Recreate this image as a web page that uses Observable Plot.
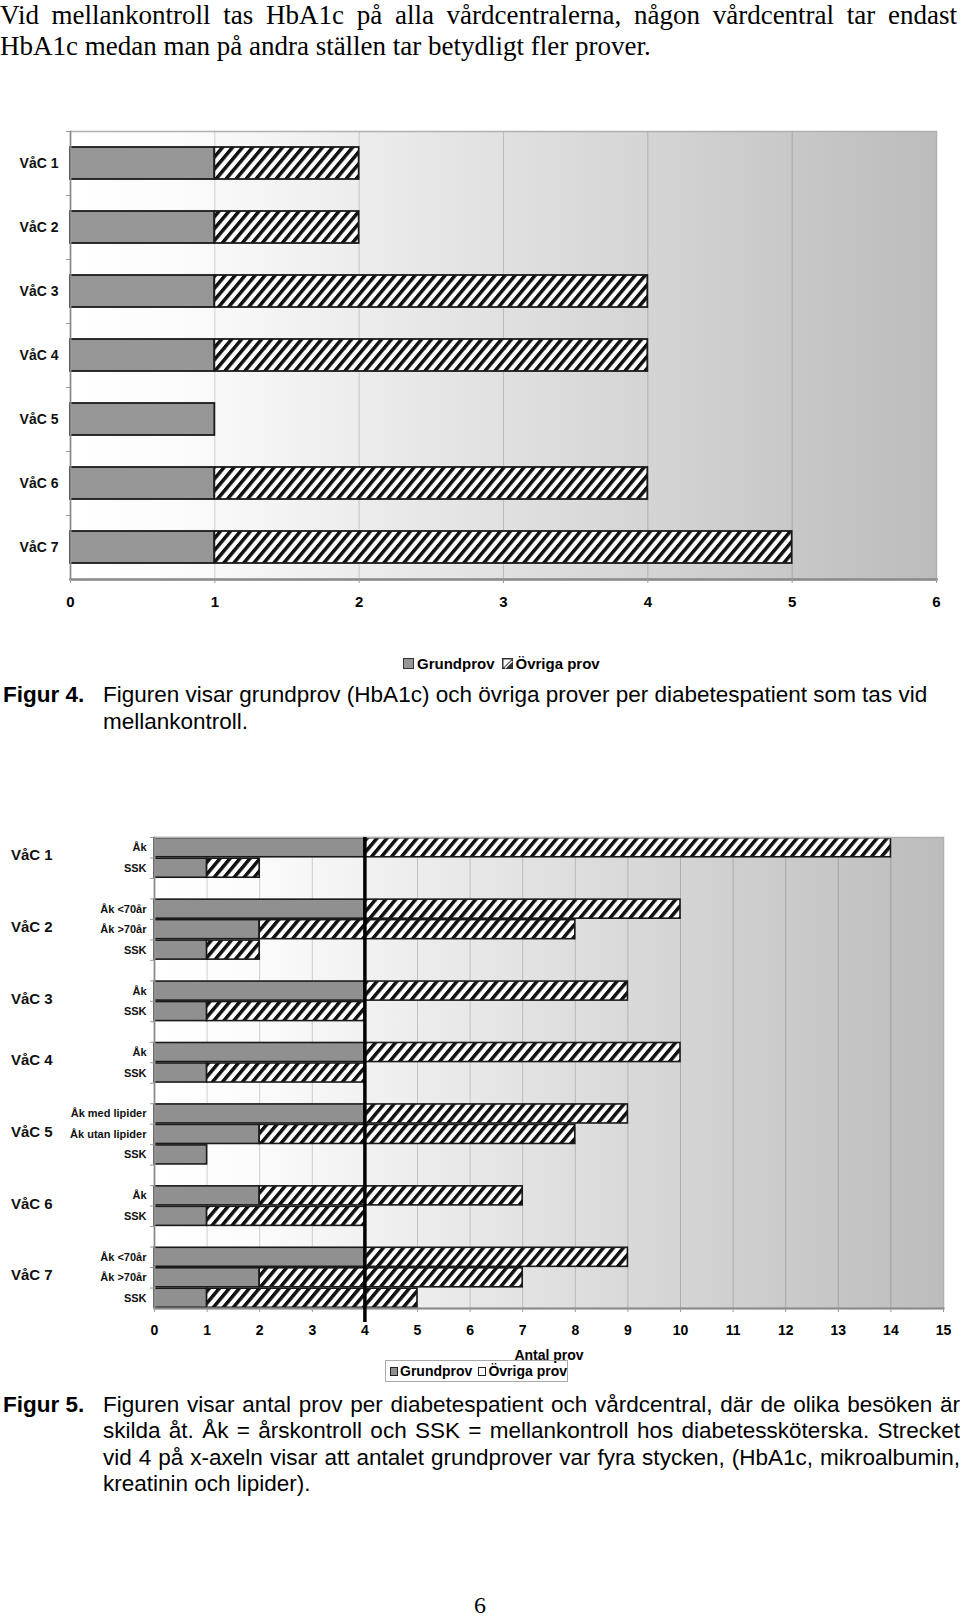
<!DOCTYPE html>
<html><head><meta charset="utf-8">
<script src="https://cdn.jsdelivr.net/npm/d3@7"></script>
<script src="https://cdn.jsdelivr.net/npm/@observablehq/plot@0.6"></script>
<style>
body{margin:0;background:#fff;}
#page{position:relative;width:960px;height:1617px;overflow:hidden;font-family:"Liberation Sans",Arial,sans-serif;color:#000;background:#fff;}
.abs{position:absolute;}
.serif{font-family:"Liberation Serif","Times New Roman",serif;}
.ln{position:absolute;white-space:nowrap;}
.just{position:absolute;white-space:normal;text-align:justify;text-align-last:justify;}
.cap{font-size:22.5px;line-height:26.4px;}
.leg{display:flex;align-items:center;font-weight:bold;white-space:nowrap;}
.sw{display:inline-block;box-sizing:border-box;}
</style></head>
<body><div id="page"></div>
<script>
// ---------- data: Figur 4 ----------
const centres = ["VåC 1","VåC 2","VåC 3","VåC 4","VåC 5","VåC 6","VåC 7"];
const grundprov1 = [1,1,1,1,1,1,1];
const ovriga1 = [1,1,3,3,0,3,4];
const seriesNames = ["Grundprov","Övriga prov"];
const ticks1 = [0,1,2,3,4,5,6];

// ---------- data: Figur 5 ----------
const barGroup = ["VåC 1","VåC 1","VåC 2","VåC 2","VåC 2","VåC 3","VåC 3","VåC 4","VåC 4","VåC 5","VåC 5","VåC 5","VåC 6","VåC 6","VåC 7","VåC 7","VåC 7"];
const barVisit = ["Åk","SSK","Åk <70år","Åk >70år","SSK","Åk","SSK","Åk","SSK","Åk med lipider","Åk utan lipider","SSK","Åk","SSK","Åk <70år","Åk >70år","SSK"];
const grundprov2 = [4,1,4,2,1,4,1,4,1,4,2,1,2,1,4,2,1];
const ovriga2 = [10,1,6,6,1,5,3,6,3,5,6,0,5,3,5,5,4];
const ticks2 = [0,1,2,3,4,5,6,7,8,9,10,11,12,13,14,15];
const antalGrundprover = 4;

// ---------- texts ----------
const introLines = ["Vid mellankontroll tas HbA1c på alla vårdcentralerna, någon vårdcentral tar endast",
  "HbA1c medan man på andra ställen tar betydligt fler prover."];
const fig4Label = "Figur 4.";
const fig4Lines = ["Figuren visar grundprov (HbA1c) och övriga prover per diabetespatient som tas vid", "mellankontroll."];
const fig5Label = "Figur 5.";
const fig5Lines = ["Figuren visar antal prov per diabetespatient och vårdcentral, där de olika besöken är",
  "skilda åt. Åk = årskontroll och SSK = mellankontroll hos diabetessköterska. Strecket",
  "vid 4 på x-axeln visar att antalet grundprover var fyra stycken, (HbA1c, mikroalbumin,",
  "kreatinin och lipider)."];
const xLabel2 = "Antal prov";
const pageNumber = "6";

const page = document.getElementById("page");
function el(tag, cls, css, text){ const e=document.createElement(tag); if(cls) e.className=cls; if(css) e.style.cssText=css; if(text!=null) e.textContent=text; page.appendChild(e); return e; }
// a justified single line: shrink the font if its natural width would not fit
function justLine(cls, css, text, width){
  const e = el("div", cls, css + `width:${width}px;`, text);
  const cs = getComputedStyle(e);
  const ctx = document.createElement("canvas").getContext("2d");
  ctx.font = `${cs.fontWeight} ${cs.fontSize} ${cs.fontFamily}`;
  const w = ctx.measureText(text).width;
  if (w > width - 2) e.style.fontSize = (parseFloat(cs.fontSize) * (width - 2) / w) + "px";
  return e;
}

// intro paragraph
justLine("just serif","left:0;top:0;font-size:27px;line-height:31px;", introLines[0], 957);
el("div","ln serif","left:0;top:31px;font-size:27px;line-height:31px;", introLines[1]);

const hatchDef = (id) => `<pattern id="${id}" width="10" height="10" patternUnits="userSpaceOnUse" patternTransform="skewX(-40)">
  <rect width="10" height="10" fill="#fff"/><rect x="0" width="4.6" height="10" fill="#111"/></pattern>`;
const gradDef = (id) => `<linearGradient id="${id}" x1="0" x2="1" y1="0" y2="0">
  <stop offset="0" stop-color="#ffffff"/><stop offset="0.12" stop-color="#fcfcfc"/><stop offset="1" stop-color="#bcbcbc"/></linearGradient>`;
function addDefs(svg, html){ d3.select(svg).insert("defs", ":first-child").html(html); }

// ---------- Figur 4 chart ----------
const table1 = centres.flatMap((c,i)=>[
  {centre:c, type:seriesNames[0], value:grundprov1[i]},
  {centre:c, type:seriesNames[1], value:ovriga1[i]}
]).filter(d=>d.value>0);

const h1 = 520, mt1 = 31, mb1 = 41;
const step1 = (h1-mt1-mb1)/centres.length;
const plot1 = Plot.plot({
  width:960, height:h1, marginLeft:70, marginRight:24, marginTop:mt1, marginBottom:mb1,
  style:"font-family:'Liberation Sans',Arial,sans-serif;background:transparent;overflow:visible;",
  x:{domain:[0,6], ticks:ticks1, tickFormat:"d"},
  y:{domain:centres, paddingInner:0.5, paddingOuter:0.25, round:false},
  color:{domain:seriesNames, range:["#969696","url(#hatch1)"]},
  marks:[
    Plot.frame({fill:"url(#bg1)"}),
    Plot.ruleX(ticks1, {stroke:"#000", strokeOpacity:0.17}),
    Plot.barX(table1, Plot.stackX({x:"value", y:"centre", fill:"type", stroke:"#1a1a1a", strokeWidth:1.8})),
    Plot.frame({stroke:"#b0b0b0", strokeWidth:1.5}),
    Plot.frame({anchor:"left", stroke:"#8a8a8a", strokeWidth:1.5}),
    Plot.frame({anchor:"bottom", stroke:"#8a8a8a", strokeWidth:2.5}),
    Plot.axisX({ticks:ticks1, tickFormat:"d", tickSize:4, tickPadding:13, stroke:"#999", fontSize:15, fontWeight:"bold", label:null}),
    Plot.axisY({tickSize:0, tickPadding:12, fontSize:14, fontWeight:"bold", fill:"#111", label:null}),
    Plot.axisY({tickSize:4, tickFormat:()=>"", dy:-step1/2, stroke:"#999", label:null})
  ]
});
addDefs(plot1, hatchDef("hatch1") + gradDef("bg1"));
plot1.style.position="absolute"; plot1.style.left="0px"; plot1.style.top="100px";
page.appendChild(plot1);

// legend Figur 4
const lg1 = el("div","abs leg","left:403px;top:653px;height:20px;font-size:15px;");
lg1.innerHTML = `<span class="sw" style="width:11px;height:11px;background:#969696;border:1.5px solid #333;margin-right:3px"></span>${seriesNames[0]}
<svg width="11" height="11" style="margin-left:7px;margin-right:3px"><rect x="0.75" y="0.75" width="9.5" height="9.5" fill="#fff" stroke="#333" stroke-width="1.5"/><path d="M0.75,10.25 L10.25,0.75 L10.25,10.25 Z" fill="#333"/><path d="M3,10.25 L10.25,3" stroke="#fff" stroke-width="1.5"/></svg>${seriesNames[1]}`;

// caption Figur 4
el("div","ln cap","left:3px;top:682px;font-weight:bold;", fig4Label);
fig4Lines.forEach((t,i)=>el("div","ln cap",`left:103px;top:${682+i*27}px;`, t));

// ---------- Figur 5 chart ----------
const rowKey = (g,v) => g + " · " + v;
const rowKeys = [];
barGroup.forEach((g,i)=>{
  if(i>0 && barGroup[i-1]!==g) rowKeys.push("gap " + barGroup[i-1]);
  rowKeys.push(rowKey(g, barVisit[i]));
});
const visitOf = new Map(barGroup.map((g,i)=>[rowKey(g,barVisit[i]), barVisit[i]]));
const table2 = barGroup.flatMap((g,i)=>[
  {row:rowKey(g,barVisit[i]), type:seriesNames[0], value:grundprov2[i]},
  {row:rowKey(g,barVisit[i]), type:seriesNames[1], value:ovriga2[i]}
]).filter(d=>d.value>0);

const h2 = 530, mt2 = 17, mb2 = 42;
const step2 = (h2-mt2-mb2)/rowKeys.length;
const plot2 = Plot.plot({
  width:960, height:h2, marginLeft:154, marginRight:17, marginTop:mt2, marginBottom:mb2,
  style:"font-family:'Liberation Sans',Arial,sans-serif;background:transparent;overflow:visible;",
  x:{domain:[0,15], ticks:ticks2, tickFormat:"d"},
  y:{domain:rowKeys, paddingInner:0.07, paddingOuter:0.035, round:false},
  color:{domain:seriesNames, range:["#909090","url(#hatch2)"]},
  marks:[
    Plot.frame({fill:"url(#bg2)"}),
    Plot.ruleX(ticks2, {stroke:"#000", strokeOpacity:0.18}),
    Plot.barX(table2, Plot.stackX({x:"value", y:"row", fill:"type", stroke:"#1a1a1a", strokeWidth:1.6})),
    Plot.frame({stroke:"#b0b0b0", strokeWidth:1.5}),
    Plot.frame({anchor:"left", stroke:"#8a8a8a", strokeWidth:1.5}),
    Plot.frame({anchor:"bottom", stroke:"#8a8a8a", strokeWidth:2}),
    Plot.axisX({ticks:ticks2, tickFormat:"d", tickSize:4, tickPadding:13, stroke:"#999", fontSize:14, fontWeight:"bold", label:null}),
    Plot.axisY({tickSize:0, tickPadding:8, tickFormat:k=>visitOf.get(k)||"", fontSize:11, fontWeight:"bold", fill:"#111", label:null}),
    Plot.axisY({tickSize:4, tickFormat:()=>"", dy:-step2/2, stroke:"#999", label:null}),
    Plot.ruleX([antalGrundprover], {stroke:"#000", strokeWidth:3.5, insetBottom:-14})
  ]
});
addDefs(plot2, hatchDef("hatch2") + gradDef("bg2"));
// group labels (VåC n), centred on each group's rows via the y scale
const ys = plot2.scale("y");
const groupNames = Array.from(new Set(barGroup));
const gsel = d3.select(plot2).append("g").attr("font-size",15).attr("font-weight","bold").attr("fill","#111").attr("text-anchor","start");
groupNames.forEach(g=>{
  const keys = barGroup.map((gg,i)=>gg===g?rowKey(gg,barVisit[i]):null).filter(k=>k);
  const yc = d3.mean(keys, k=>ys.apply(k)) + ys.bandwidth/2;
  gsel.append("text").attr("x",11).attr("y",yc).attr("dy","0.2em").attr("text-anchor","start").text(g);
});
plot2.style.position="absolute"; plot2.style.left="0px"; plot2.style.top="820px";
page.appendChild(plot2);

// axis label + legend Figur 5
el("div","abs","left:449px;width:200px;top:1346px;text-align:center;font-size:14px;font-weight:bold;line-height:18px;", xLabel2);
const lg2 = el("div","abs leg","left:385px;top:1360px;width:183px;height:22px;box-sizing:border-box;border:1px solid #aaa;font-size:14px;padding-left:4px;");
lg2.innerHTML = `<span class="sw" style="width:9px;height:9px;background:#909090;border:1px solid #222;margin-right:2px"></span>${seriesNames[0]}
<span class="sw" style="width:9px;height:9px;background:#fff;border:1px solid #222;margin-left:6px;margin-right:2px"></span>${seriesNames[1]}`;

// caption Figur 5
el("div","ln cap","left:3px;top:1392px;font-weight:bold;", fig5Label);
fig5Lines.forEach((t,i)=>{
  if(i<fig5Lines.length-1) justLine("just cap",`left:103px;top:${1392+i*26.3}px;`, t, 857);
  else el("div","ln cap",`left:103px;top:${1392+i*26.3}px;`, t);
});

// page number
el("div","abs serif","left:430px;width:100px;text-align:center;top:1590px;font-size:24px;line-height:30px;", pageNumber);
</script>
</body></html>
